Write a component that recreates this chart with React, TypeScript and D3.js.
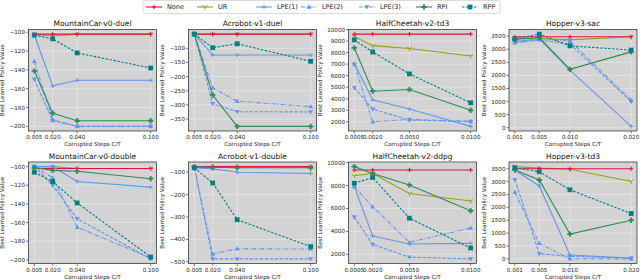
import * as d3 from "d3";

const TITLES = [
  "MountainCar-v0-duel",
  "Acrobot-v1-duel",
  "HalfCheetah-v2-td3",
  "Hopper-v3-sac",
  "MountainCar-v0-double",
  "Acrobot-v1-double",
  "HalfCheetah-v2-ddpg",
  "Hopper-v3-td3",
];

const STEPS_MC = [0.005, 0.02, 0.04, 0.1];
const STEPS_HC = [0.0005, 0.002, 0.005, 0.01];
const STEPS_HOP = [0.001, 0.005, 0.01, 0.02];
const STEPS = [STEPS_MC, STEPS_MC, STEPS_HC, STEPS_HOP, STEPS_MC, STEPS_MC, STEPS_HC, STEPS_HOP];

const LABELS_MC = ["0.005", "0.020", "0.040", "0.100"];
const LABELS_HC = ["0.0005", "0.0020", "0.0050", "0.0100"];
const LABELS_HOP = ["0.001", "0.005", "0.010", "0.020"];
const STEP_LABELS = [LABELS_MC, LABELS_MC, LABELS_HC, LABELS_HOP, LABELS_MC, LABELS_MC, LABELS_HC, LABELS_HOP];

const Y_TICKS = [
  [-200, -180, -160, -140, -120, -100],
  [-350, -300, -250, -200, -150, -100],
  [2000, 3000, 4000, 5000, 6000, 7000, 8000, 9000, 10000],
  [0, 500, 1000, 1500, 2000, 2500, 3000, 3500],
  [-200, -180, -160, -140, -120, -100],
  [-500, -400, -300, -200, -100],
  [2000, 4000, 6000, 8000, 10000],
  [0, 500, 1000, 1500, 2000, 2500, 3000, 3500],
];

// one row per panel, one value per corrupted-steps setting
const NONE = [
  [-102, -102, -102, -102],
  [-50, -50, -50, -50],
  [9600, 9600, 9600, 9600],
  [3480, 3480, 3480, 3480],
  [-102, -102, -102, -102],
  [-75, -75, -75, -75],
  [9350, 9350, 9350, 9350],
  [3500, 3500, 3500, 3500],
];
const UR = [
  [-102, -104, -102, -102],
  [-50, -50, -50, -50],
  [9400, 8600, 8350, 7700],
  [3420, 3420, 3360, 3480],
  [-100, -100, -102, -102],
  [-77, -78, -78, -78],
  [8850, 9050, 7300, 6650],
  [3580, 3520, 3480, 3000],
];
const LPE1 = [
  [-103, -157, -151, -151],
  [-50, -124, -124, -124],
  [7050, 3900, 3100, 1600],
  [3300, 3400, 2200, 50],
  [-100, -100, -116, -122],
  [-80, -85, -100, -105],
  [7900, 3600, 2900, 2950],
  [3450, 2830, 150, 30],
];
const LPE2 = [
  [-131, -193, -200, -200],
  [-50, -240, -287, -306],
  [7000, 2000, 2200, 2050],
  [3250, 3380, 3320, 1050],
  [-100, -112, -165, -198],
  [-80, -465, -442, -443],
  [7900, 6150, 3050, 4300],
  [2580, 600, 0, 0],
];
const LPE3 = [
  [-150, -194, -200, -200],
  [-50, -296, -324, -325],
  [4950, 3100, 2150, 2000],
  [3250, 3350, 3200, 1000],
  [-100, -120, -156, -199],
  [-80, -487, -487, -487],
  [5250, 2850, 1750, 1600],
  [3070, 200, 100, 30],
];
const RPI = [
  [-141, -186, -194, -194],
  [-50, -265, -376, -376],
  [8400, 4650, 4800, 3000],
  [3380, 3450, 2230, 2900],
  [-101, -104, -105, -113],
  [-76, -78, -80, -80],
  [9650, 9050, 8050, 5800],
  [3450, 3060, 960, 1500],
];
const RPP = [
  [-103, -107, -122, -138],
  [-50, -98, -84, -146],
  [9100, 8050, 6150, 3650],
  [3400, 3580, 3130, 2970],
  [-106, -116, -139, -197],
  [-80, -148, -312, -432],
  [8200, 8700, 5150, 2550],
  [3540, 3380, 2680, 1760],
];

const SERIES_NAMES = ["None", "UR", "LPE(1)", "LPE(2)", "LPE(3)", "RPI", "RPP"];
const SERIES_VALUES = [NONE, UR, LPE1, LPE2, LPE3, RPI, RPP];
// olive first, then red on top of it, then the rest
const DRAW_ORDER = [1, 0, 2, 3, 4, 5, 6];

const STYLES = [
  { color: "#dc143c", dash: "", marker: "plus" },
  { color: "#9c9c1c", dash: "", marker: "tri" },
  { color: "#6495ed", dash: "", marker: "plus" },
  { color: "#6495ed", dash: "4,1.5,1,1.5", marker: "up" },
  { color: "#6495ed", dash: "3.5,1.5", marker: "down" },
  { color: "#2e8b57", dash: "", marker: "P" },
  { color: "#008080", dash: "2.5,1.5", marker: "square" },
];

const LEFTS = [28.5, 188.5, 348.5, 509];
const TOPS = [29.5, 162];
const PW = 128;
const PH = 101.5;
const FONT = "DejaVu Sans, sans-serif";
const LEGEND_TEXT_X = [167, 218, 277, 322, 380, 437, 483];

const fmt = (v: number) => (v < 0 ? "\u2212" + Math.abs(v) : String(v));

function textWidth(s: string, size: number) {
  let w = 0;
  for (const ch of s) w += ch === "\u2212" ? 0.838 : ch === "." ? 0.318 : 0.636;
  return w * size;
}

function Marker({ kind, x, y, color }: { kind: string; x: number; y: number; color: string }) {
  if (kind === "plus") {
    return <path d={`M${x - 2.2},${y}h4.4M${x},${y - 2.2}v4.4`} stroke={color} strokeWidth={1} fill="none" />;
  }
  if (kind === "tri") {
    return (
      <path d={`M${x},${y}v2.8M${x},${y}l-2.4,-1.4M${x},${y}l2.4,-1.4`} stroke={color} strokeWidth={1} fill="none" />
    );
  }
  if (kind === "up") {
    return <path d={`M${x},${y - 2.6}L${x + 2.4},${y + 1.7}L${x - 2.4},${y + 1.7}Z`} fill={color} />;
  }
  if (kind === "down") {
    return <path d={`M${x},${y + 2.6}L${x + 2.4},${y - 1.7}L${x - 2.4},${y - 1.7}Z`} fill={color} />;
  }
  if (kind === "P") {
    const d = d3.symbol(d3.symbolCross, 16)() ?? "";
    return <path d={d} transform={`translate(${x},${y})`} fill={color} />;
  }
  return <rect x={x - 2.4} y={y - 2.4} width={4.8} height={4.8} fill={color} />;
}

function Panel({ index }: { index: number }) {
  const left = LEFTS[index % 4];
  const top = TOPS[Math.floor(index / 4)];
  const steps = STEPS[index];
  const all = SERIES_VALUES.flatMap((s) => s[index]);
  const [ymin, ymax] = d3.extent(all) as [number, number];
  const [xmin, xmax] = d3.extent(steps) as [number, number];
  const xPad = (xmax - xmin) * 0.05;
  const yPad = (ymax - ymin) * 0.05;

  const x = d3.scaleLinear().domain([xmin - xPad, xmax + xPad]).range([left, left + PW]);
  const y = d3.scaleLinear().domain([ymin - yPad, ymax + yPad]).range([top + PH, top]);

  const yTicks = Y_TICKS[index];
  const maxLabel = d3.max(yTicks, (t) => textWidth(fmt(t), 5.6)) ?? 0;
  const ylabelX = left - 3.5 - maxLabel - 5.5;
  const bottom = top + PH;

  return (
    <g>
      <rect x={left} y={top} width={PW} height={PH} fill="#d3d3d3" />
      {steps.map((s, i) => (
        <line key={"gx" + i} x1={x(s)} x2={x(s)} y1={top} y2={bottom} stroke="#e6e6e6" strokeWidth={0.8} />
      ))}
      {yTicks.map((t) => (
        <line key={"gy" + t} x1={left} x2={left + PW} y1={y(t)} y2={y(t)} stroke="#e6e6e6" strokeWidth={0.8} />
      ))}
      {DRAW_ORDER.map((si) => {
        const st = STYLES[si];
        const pts = SERIES_VALUES[si][index].map((v, i) => [x(steps[i]), y(v)] as [number, number]);
        const path = d3.line()(pts) ?? "";
        return (
          <g key={"s" + si}>
            <path d={path} fill="none" stroke={st.color} strokeWidth={1.1} strokeDasharray={st.dash || undefined} />
            {pts.map((p, i) => (
              <Marker key={i} kind={st.marker} x={p[0]} y={p[1]} color={st.color} />
            ))}
          </g>
        );
      })}
      <rect x={left} y={top} width={PW} height={PH} fill="none" stroke="#262626" strokeWidth={0.7} />
      {steps.map((s, i) => (
        <g key={"tx" + i}>
          <line x1={x(s)} x2={x(s)} y1={bottom} y2={bottom + 2.5} stroke="#262626" strokeWidth={0.6} />
          <text x={x(s)} y={bottom + 8} fontSize={5.6} textAnchor="middle" fontFamily={FONT} fill="#222">
            {STEP_LABELS[index][i]}
          </text>
        </g>
      ))}
      {yTicks.map((t) => (
        <g key={"ty" + t}>
          <line x1={left - 2.5} x2={left} y1={y(t)} y2={y(t)} stroke="#262626" strokeWidth={0.6} />
          <text x={left - 3.5} y={y(t) + 2} fontSize={5.6} textAnchor="end" fontFamily={FONT} fill="#222">
            {fmt(t)}
          </text>
        </g>
      ))}
      <text x={left + PW / 2} y={top - 3.5} fontSize={7.5} textAnchor="middle" fontFamily={FONT} fill="#111">
        {TITLES[index]}
      </text>
      <text x={left + PW / 2} y={bottom + 15} fontSize={5.6} textAnchor="middle" fontFamily={FONT} fill="#222">
        Corrupted Steps C/T
      </text>
      <text
        transform={`translate(${ylabelX},${top + PH / 2}) rotate(-90)`}
        fontSize={5.6}
        textAnchor="middle"
        fontFamily={FONT}
        fill="#222"
      >
        Best Learned Policy Value
      </text>
    </g>
  );
}

function Legend() {
  return (
    <g>
      <rect x={143} y={0.5} width={357} height={13} rx={2} fill="#fff" stroke="#cccccc" strokeWidth={0.7} />
      {SERIES_NAMES.map((name, i) => {
        const st = STYLES[i];
        const tx = LEGEND_TEXT_X[i];
        const x0 = tx - 21;
        const x1 = tx - 5;
        return (
          <g key={name}>
            <line x1={x0} x2={x1} y1={7} y2={7} stroke={st.color} strokeWidth={1.1} strokeDasharray={st.dash || undefined} />
            <Marker kind={st.marker} x={(x0 + x1) / 2} y={7} color={st.color} />
            <text x={tx} y={9.3} fontSize={6.5} fontFamily={FONT} fill="#222">
              {name}
            </text>
          </g>
        );
      })}
    </g>
  );
}

export default function App() {
  return (
    <svg
      width={640}
      height={280}
      viewBox="0 0 640 280"
      style={{ position: "absolute", left: 0, top: 0, background: "#fff" }}
    >
      {TITLES.map((_, i) => (
        <Panel key={i} index={i} />
      ))}
      <Legend />
    </svg>
  );
}
